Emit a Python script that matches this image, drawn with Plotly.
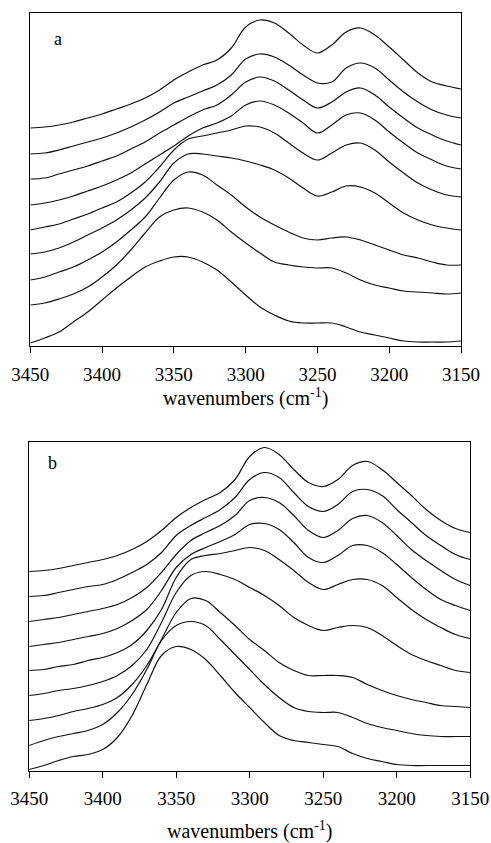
import plotly.graph_objects as go

# Wavenumber grid (cm^-1), high to low
wavenumbers = list(range(3450, 3149, -10))

# Panel a: stacked spectra, top to bottom (arbitrary intensity units, offsets included)
a1 = [218, 219, 221, 224, 228, 232, 237, 242, 248, 256, 266, 274, 281, 286, 298, 319, 326, 323, 313, 301, 293, 301, 314, 318, 311, 299, 286, 273, 264, 260, 257]
a2 = [192, 193, 196, 200, 204, 208, 213, 219, 226, 234, 243, 249, 255, 261, 271, 287, 292, 289, 281, 271, 263, 264, 278, 283, 278, 266, 254, 244, 236, 231, 228]
a3 = [167, 168, 172, 176, 180, 185, 190, 197, 204, 213, 221, 229, 236, 241, 251, 264, 269, 265, 256, 246, 238, 244, 254, 258, 251, 239, 228, 218, 211, 205, 201]
a4 = [141, 143, 146, 150, 155, 160, 166, 173, 182, 191, 200, 210, 218, 223, 230, 241, 245, 241, 233, 223, 213, 221, 231, 233, 226, 214, 203, 193, 186, 180, 177]
a5 = [116, 119, 122, 127, 132, 138, 144, 153, 164, 179, 196, 207, 210, 213, 216, 220, 219, 213, 203, 193, 186, 193, 201, 203, 196, 184, 173, 163, 156, 151, 149]
a6 = [92, 94, 98, 104, 111, 118, 126, 136, 148, 164, 183, 192, 192, 190, 188, 185, 181, 176, 168, 158, 150, 154, 160, 159, 153, 143, 133, 126, 121, 118, 116]
a7 = [66, 69, 74, 79, 86, 94, 104, 116, 129, 148, 166, 174, 171, 161, 151, 139, 129, 121, 114, 108, 106, 108, 109, 106, 101, 96, 91, 88, 84, 81, 81]
a8 = [41, 43, 47, 52, 59, 69, 81, 96, 113, 129, 136, 138, 134, 126, 114, 103, 93, 84, 81, 79, 78, 78, 73, 66, 61, 58, 55, 54, 53, 52, 53]
a9 = [3, 8, 14, 24, 34, 46, 58, 69, 79, 85, 89, 89, 84, 76, 64, 51, 39, 31, 25, 23, 23, 23, 19, 14, 11, 8, 5, 4, 4, 4, 5]

# Panel b: stacked spectra, top to bottom
b1 = [199, 200, 202, 205, 208, 211, 215, 221, 229, 240, 253, 263, 271, 278, 291, 314, 323, 316, 301, 288, 284, 291, 305, 309, 301, 288, 275, 261, 250, 242, 238]
b2 = [174, 175, 178, 181, 184, 186, 191, 198, 206, 218, 235, 245, 253, 261, 273, 291, 298, 293, 278, 264, 259, 266, 279, 281, 275, 261, 248, 235, 225, 216, 211]
b3 = [149, 151, 153, 156, 159, 162, 166, 173, 183, 198, 216, 230, 238, 245, 255, 270, 273, 268, 255, 240, 233, 240, 252, 255, 248, 235, 221, 210, 200, 191, 185]
b4 = [124, 126, 128, 131, 134, 137, 142, 150, 161, 180, 203, 216, 223, 229, 236, 246, 247, 241, 228, 213, 208, 215, 225, 225, 218, 206, 193, 181, 171, 165, 160]
b5 = [100, 101, 104, 106, 110, 113, 118, 126, 140, 161, 193, 211, 215, 217, 220, 223, 220, 211, 200, 188, 181, 186, 191, 191, 185, 173, 161, 151, 143, 136, 132]
b6 = [75, 77, 80, 82, 85, 89, 95, 105, 121, 148, 178, 195, 199, 196, 191, 183, 175, 165, 153, 145, 140, 143, 145, 143, 135, 125, 116, 110, 105, 100, 98]
b7 = [50, 52, 55, 59, 62, 66, 73, 86, 105, 131, 158, 172, 170, 158, 145, 131, 120, 108, 100, 95, 95, 95, 93, 86, 80, 75, 71, 68, 65, 64, 63]
b8 = [25, 30, 34, 37, 40, 46, 58, 76, 101, 130, 145, 149, 145, 131, 116, 101, 86, 73, 63, 59, 58, 58, 53, 47, 43, 40, 37, 35, 34, 34, 34]
b9 = [1, 5, 10, 14, 16, 21, 33, 55, 86, 115, 124, 121, 111, 95, 78, 63, 48, 35, 30, 28, 26, 24, 17, 12, 9, 6, 5, 5, 5, 5, 5]

panel_a = [a1, a2, a3, a4, a5, a6, a7, a8, a9]
panel_b = [b1, b2, b3, b4, b5, b6, b7, b8, b9]

tick_vals = [3450, 3400, 3350, 3300, 3250, 3200, 3150]
x_title = "wavenumbers (cm<sup>-1</sup>)"

SERIF = "Liberation Serif, Times New Roman, serif"
LINE = dict(color="#111111", width=1.2, shape="spline", smoothing=1.0)

fig = go.Figure()
for ys in panel_a:
    fig.add_trace(go.Scatter(x=wavenumbers, y=ys, mode="lines", line=LINE,
                             xaxis="x", yaxis="y", showlegend=False, hoverinfo="skip"))
for ys in panel_b:
    fig.add_trace(go.Scatter(x=wavenumbers, y=ys, mode="lines", line=LINE,
                             xaxis="x2", yaxis="y2", showlegend=False, hoverinfo="skip"))

W, H = 491, 843

def xdom(left, right):
    return [left / W, right / W]

def ydom(top, bottom):
    return [1 - bottom / H, 1 - top / H]

xcommon = dict(range=[3450, 3150], tickvals=tick_vals, ticks="outside", ticklen=6,
               tickwidth=1, tickcolor="black", showline=True, linecolor="black",
               linewidth=1, mirror=True, showgrid=False, zeroline=False,
               automargin=False, ticklabelstandoff=5,
               tickfont=dict(family=SERIF, size=19, color="black"))
ycommon = dict(showline=True, linecolor="black", linewidth=1, mirror=True,
               showgrid=False, zeroline=False, showticklabels=False, ticks="",
               automargin=False)

fig.update_layout(
    width=W, height=H,
    margin=dict(l=0, r=0, t=0, b=0, autoexpand=False),
    paper_bgcolor="white", plot_bgcolor="white",
    xaxis=dict(xcommon, domain=xdom(30.3, 461), anchor="y",
               title=dict(text=x_title, standoff=6,
                          font=dict(family=SERIF, size=20, color="black"))),
    yaxis=dict(ycommon, domain=ydom(13, 346), range=[0, 333], anchor="x"),
    xaxis2=dict(xcommon, domain=xdom(29.2, 470.2), anchor="y2",
                title=dict(text=x_title, standoff=19,
                           font=dict(family=SERIF, size=20, color="black"))),
    yaxis2=dict(ycommon, domain=ydom(442, 770.5), range=[0, 328.5], anchor="x2"),
    annotations=[
        dict(text="a", x=3431, y=307, xref="x", yref="y", showarrow=False,
             font=dict(family=SERIF, size=18, color="black")),
        dict(text="b", x=3434, y=308, xref="x2", yref="y2", showarrow=False,
             font=dict(family=SERIF, size=18, color="black")),
    ],
)

fig.write_html("out.html")
